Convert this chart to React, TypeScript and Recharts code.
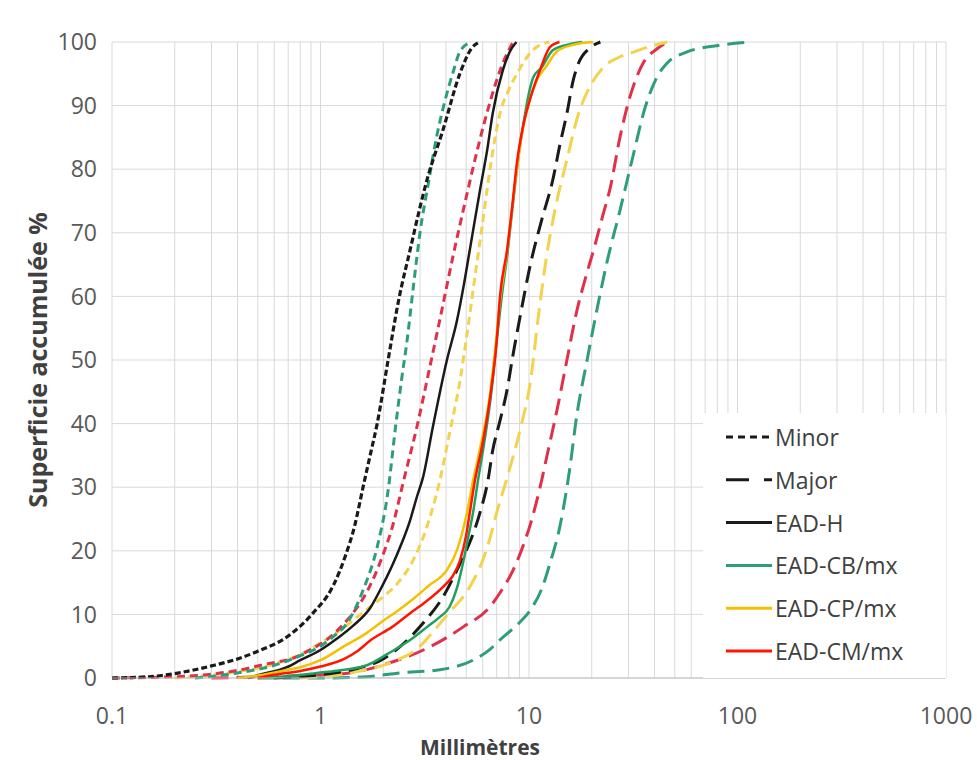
import React from "react";
import {
  LineChart,
  Line,
  XAxis,
  YAxis,
  CartesianGrid,
  Legend,
} from "recharts";

// x = millimètres, y = superficie accumulée %
const minor = [
  [0.1, 0], [0.15, 0.2], [0.2, 0.7], [0.3, 1.9], [0.4, 3], [0.5, 4.2], [0.7, 6.6],
  [0.92, 10.2], [1.15, 14.5], [1.31, 19], [1.46, 24], [1.6, 30], [1.73, 35],
  [1.87, 40], [2.11, 50], [2.37, 59.4], [2.69, 67.3], [3.0, 74], [3.24, 78.3],
  [3.87, 86.2], [4.67, 95.1], [5.3, 99], [5.8, 100],
];
const major = [
  [0.6, 0], [1.0, 0.5], [1.5, 1.5], [2.0, 3], [2.4, 4.9], [3.1, 8.6], [3.86, 12.7],
  [4.67, 18], [5.3, 22], [5.82, 26], [6.35, 31], [6.7, 35.8], [7.2, 40], [7.85, 45.3],
  [8.4, 51], [9.06, 56.8], [10.2, 65.3], [11.5, 72], [13.0, 78.3], [14.1, 84],
  [15.2, 88.8], [16.3, 94], [17.2, 96.5], [19.5, 99], [22, 100],
];
const eadH = [
  [0.45, 0], [0.51, 0.5], [0.69, 1.7], [0.8, 2.8], [1.0, 4.4], [1.2, 6.2], [1.43, 8.2],
  [1.73, 11], [1.93, 13.8], [2.23, 18], [2.41, 20.6], [2.69, 24.8], [2.9, 28.5],
  [3.1, 31.5], [3.46, 39.5], [4.04, 50], [4.5, 56], [4.85, 61.5], [5.2, 67.3],
  [5.82, 76.7], [6.3, 83], [6.7, 88.8], [7.5, 95.6], [8.1, 98.5], [8.7, 100],
];
const cbMx = [
  [0.5, 0], [0.7, 0.3], [0.96, 0.8], [1.3, 1.3], [1.67, 2], [2.1, 3.8], [2.7, 6],
  [3.24, 8], [3.7, 9.5], [4.16, 11.2], [4.5, 14], [4.82, 18], [5.1, 22],
  [5.39, 26], [5.69, 31], [6.1, 37], [6.6, 45], [7.0, 53], [7.4, 60], [7.9, 67],
  [8.4, 75], [8.9, 82], [9.5, 88], [10.0, 92], [10.5, 94.5], [11.5, 96], [13, 98.7],
  [15, 99.5], [18, 100],
];
const cpMx = [
  [0.4, 0], [0.5, 0.4], [0.7, 1.3], [0.8, 1.7], [1.0, 2.8], [1.3, 5], [1.67, 7.1],
  [2.0, 9], [2.33, 10.5], [2.8, 12.5], [3.3, 14.5], [4.04, 17], [4.5, 20], [5.04, 26],
  [5.39, 31], [5.9, 37], [6.4, 43], [6.9, 52], [7.3, 60], [7.85, 67], [8.3, 74],
  [8.75, 80], [9.3, 86], [10, 90.5], [10.9, 94], [12, 96], [13.6, 98.5], [16, 99.5],
  [20.3, 100],
];
const cmMx = [
  [0.5, 0], [0.6, 0.5], [0.8, 1.1], [1.0, 1.8], [1.3, 3], [1.5, 4.2], [1.75, 6],
  [2.2, 8], [2.69, 10.2], [3.2, 12], [3.86, 14.3], [4.3, 16], [4.67, 18.5], [5.0, 22.5],
  [5.2, 26], [5.5, 31], [6.0, 37], [6.5, 44], [7.0, 53], [7.26, 60], [7.85, 67.3],
  [8.3, 74], [8.75, 81], [9.4, 87], [10.2, 91.4], [11.3, 95.6], [12.6, 99.2], [14, 100],
];
const cbMinor = [
  [0.25, 0], [0.4, 0.8], [0.6, 2], [0.8, 3.5], [1.0, 5], [1.15, 6.5], [1.34, 8.6],
  [1.6, 13.8], [1.87, 20.6], [2.1, 29], [2.3, 40], [2.45, 47], [2.6, 53], [2.8, 62],
  [3.0, 70], [3.3, 78], [3.6, 85], [3.9, 90], [4.3, 95], [4.7, 98.7], [5.3, 100],
];
const cmMinor = [
  [0.1, 0], [0.2, 0.2], [0.3, 0.6], [0.4, 1.2], [0.55, 2.2], [0.75, 3.2], [0.9, 4.5],
  [1.07, 6], [1.25, 8], [1.43, 10.2], [1.6, 12.5], [1.78, 15.4], [2.0, 19.5],
  [2.2, 23.5], [2.49, 30.7], [2.9, 39.5], [3.35, 49], [3.8, 57.5], [4.3, 66],
  [5.0, 75.6], [5.6, 82.5], [6.28, 88.8], [7.0, 94], [7.5, 96.7], [8.4, 100],
];
const cpMinor = [
  [0.2, 0], [0.4, 1], [0.6, 2.2], [0.8, 3.7], [1.0, 5.5], [1.24, 7.5], [1.67, 10.8],
  [2.0, 12.8], [2.33, 14.8], [2.78, 18.5], [3.24, 23.8], [3.7, 30.5], [4.16, 38.5],
  [4.67, 46.8], [5.04, 54], [5.5, 63], [5.9, 70], [6.5, 80], [7.26, 88.8], [8.0, 92.5],
  [8.75, 95], [10.4, 98.7], [12.5, 100],
];
const cbMajor = [
  [0.5, 0], [1.0, 0], [1.67, 0.2], [2.4, 0.8], [3.74, 1.3], [5.39, 2.8], [6.5, 4.5],
  [7.26, 6], [8.2, 7.5], [9.06, 8.8], [10.4, 11.2], [11.5, 14], [12.6, 18],
  [14.1, 24], [15.7, 33], [16.9, 41], [19.0, 50], [21.2, 58], [23.7, 65.5],
  [27.3, 73.5], [31.5, 82], [35.9, 89.5], [41.1, 94.5], [46, 96.7], [55.8, 98.3],
  [82.5, 99.5], [115, 100],
];
const cmMajor = [
  [0.3, 0], [0.7, 0.3], [1.0, 0.5], [1.38, 0.8], [2.15, 2.4], [3.35, 4.9], [4.82, 8],
  [6.5, 11.2], [7.26, 13.4], [8.4, 17], [9.3, 20.5], [10.2, 24.4], [11.3, 30],
  [12.3, 35.5], [13.6, 42], [15.2, 50], [16.9, 57.5], [18.7, 63], [20.7, 68],
  [22.5, 72.5], [24.5, 77], [27.3, 85], [30.5, 91.4], [35.3, 96.7], [41, 98.9],
  [46, 100],
];
const cpMajor = [
  [0.8, 0], [1.5, 1], [2.2, 2.5], [3.0, 5], [3.62, 8], [4.2, 10.5], [4.82, 12.7],
  [5.4, 15.3], [6.0, 18.5], [6.5, 22], [7.0, 26], [7.85, 31.5], [9.06, 39],
  [10.2, 47], [11.1, 57], [12.1, 66], [13.4, 74], [15.2, 81.5], [17.2, 88.5],
  [19.6, 93], [22.7, 96], [27, 97.6], [31.6, 98.4], [38, 99.3], [46, 100],
];

const decadeTicks = [0.1, 1, 10, 100, 1000];
const decadeLabels = ["0.1", "1", "10", "100", "1000"];
const yTicks = [0, 10, 20, 30, 40, 50, 60, 70, 80, 90, 100];

// grid lines at every 1..9 x decade
const xGridTicks = [
  ...decadeTicks.slice(0, 4).flatMap((d) =>
    [1, 2, 3, 4, 5, 6, 7, 8, 9].map((k) => +(d * k).toPrecision(3))
  ),
  1000,
];

const toPoints = (arr: number[][]) => arr.map(([x, y]) => ({ x, y }));

const BLACK = "#1a1a1a";
const GREEN = "#20a060";
const GREEN_D = "#2e9e7a";
const YELLOW = "#f5c000";
const YELLOW_D = "#f3d24e";
const RED = "#ff1500";
const RED_D = "#e0304a";

const SHORT = "8 5";
const LONG = "17 8";

const series = [
  { key: "cbMajor", data: cbMajor, color: GREEN_D, dash: LONG, w: 3 },
  { key: "cmMajor", data: cmMajor, color: RED_D, dash: LONG, w: 3 },
  { key: "cpMajor", data: cpMajor, color: YELLOW_D, dash: LONG, w: 3 },
  { key: "cpMinor", data: cpMinor, color: YELLOW_D, dash: SHORT, w: 3 },
  { key: "cmMinor", data: cmMinor, color: RED_D, dash: SHORT, w: 3 },
  { key: "cbMinor", data: cbMinor, color: GREEN_D, dash: SHORT, w: 3 },
  { key: "major", data: major, color: BLACK, dash: LONG, w: 3 },
  { key: "minor", data: minor, color: BLACK, dash: "6 3", w: 3.2 },
  { key: "eadH", data: eadH, color: BLACK, dash: undefined, w: 2.5 },
  { key: "cbMx", data: cbMx, color: GREEN, dash: undefined, w: 2.5 },
  { key: "cpMx", data: cpMx, color: YELLOW, dash: undefined, w: 2.5 },
  { key: "cmMx", data: cmMx, color: RED, dash: undefined, w: 2.5 },
];

const legendItems = [
  { label: "Minor", color: BLACK, dash: "7 5" },
  { label: "Major", color: BLACK, dash: "23 15" },
  { label: "EAD-H", color: BLACK, dash: undefined },
  { label: "EAD-CB/mx", color: GREEN_D, dash: undefined },
  { label: "EAD-CP/mx", color: YELLOW, dash: undefined },
  { label: "EAD-CM/mx", color: RED, dash: undefined },
];

function LegendBox() {
  return (
    <svg width={243} height={265} style={{ display: "block" }}>
      {legendItems.map((it, i) => {
        const y = 24 + i * 42.8;
        return (
          <g key={it.label}>
            <line x1={23} x2={69} y1={y} y2={y} stroke={it.color} strokeWidth={3} strokeDasharray={it.dash} />
            <text x={72} y={y} dominantBaseline="central" fontSize={23} fill="#404040">
              {it.label}
            </text>
          </g>
        );
      })}
    </svg>
  );
}

const fmtX = (v: number) => {
  const i = decadeTicks.findIndex((d) => Math.abs(d - v) / d < 1e-6);
  return i >= 0 ? decadeLabels[i] : "";
};

export default function App() {
  return (
    <div
      style={{
        position: "absolute",
        left: 0,
        top: 0,
        width: 977,
        height: 760,
        background: "#fff",
        fontFamily: "'Open Sans', sans-serif",
      }}
    >
      <LineChart width={977} height={760} margin={{ top: 42, right: 31, bottom: 0, left: 0 }}>
        <CartesianGrid stroke="#d9d9d9" strokeWidth={1} />
        <XAxis
          dataKey="x"
          type="number"
          scale="log"
          domain={[0.1, 1000]}
          allowDataOverflow
          ticks={xGridTicks}
          interval={0}
          tickFormatter={fmtX}
          tickLine={false}
          tickSize={0}
          tickMargin={30}
          height={82}
          axisLine={{ stroke: "#bfbfbf" }}
          tick={{ fill: "#595959", fontSize: 23 }}
          label={{
            value: "Millimètres",
            position: "insideBottom",
            offset: 5,
            dx: -49,
            style: { fontWeight: "bold", fontSize: 21, fill: "#404040" },
          }}
        />
        <YAxis
          type="number"
          domain={[0, 100]}
          ticks={yTicks}
          interval={0}
          width={112}
          tickLine={false}
          tickSize={0}
          tickMargin={15}
          axisLine={false}
          tick={{ fill: "#595959", fontSize: 23 }}
          label={{
            value: "Superficie accumulée %",
            angle: -90,
            position: "center",
            dx: -18,
            dy: 0,
            style: { fontWeight: "bold", fontSize: 25, fill: "#404040" },
          }}
        />
        {series.map((s) => (
          <Line
            key={s.key}
            data={toPoints(s.data)}
            dataKey="y"
            type="monotone"
            stroke={s.color}
            strokeWidth={s.w}
            strokeDasharray={s.dash}
            dot={false}
            activeDot={false}
            isAnimationActive={false}
          />
        ))}
        <Legend
          layout="horizontal"
          verticalAlign="middle"
          align="center"
          content={() => <LegendBox />}
          wrapperStyle={{
            position: "absolute",
            left: 703,
            top: 413,
            width: 243,
            height: 265,
            background: "#fff",
          }}
        />
      </LineChart>
    </div>
  );
}
